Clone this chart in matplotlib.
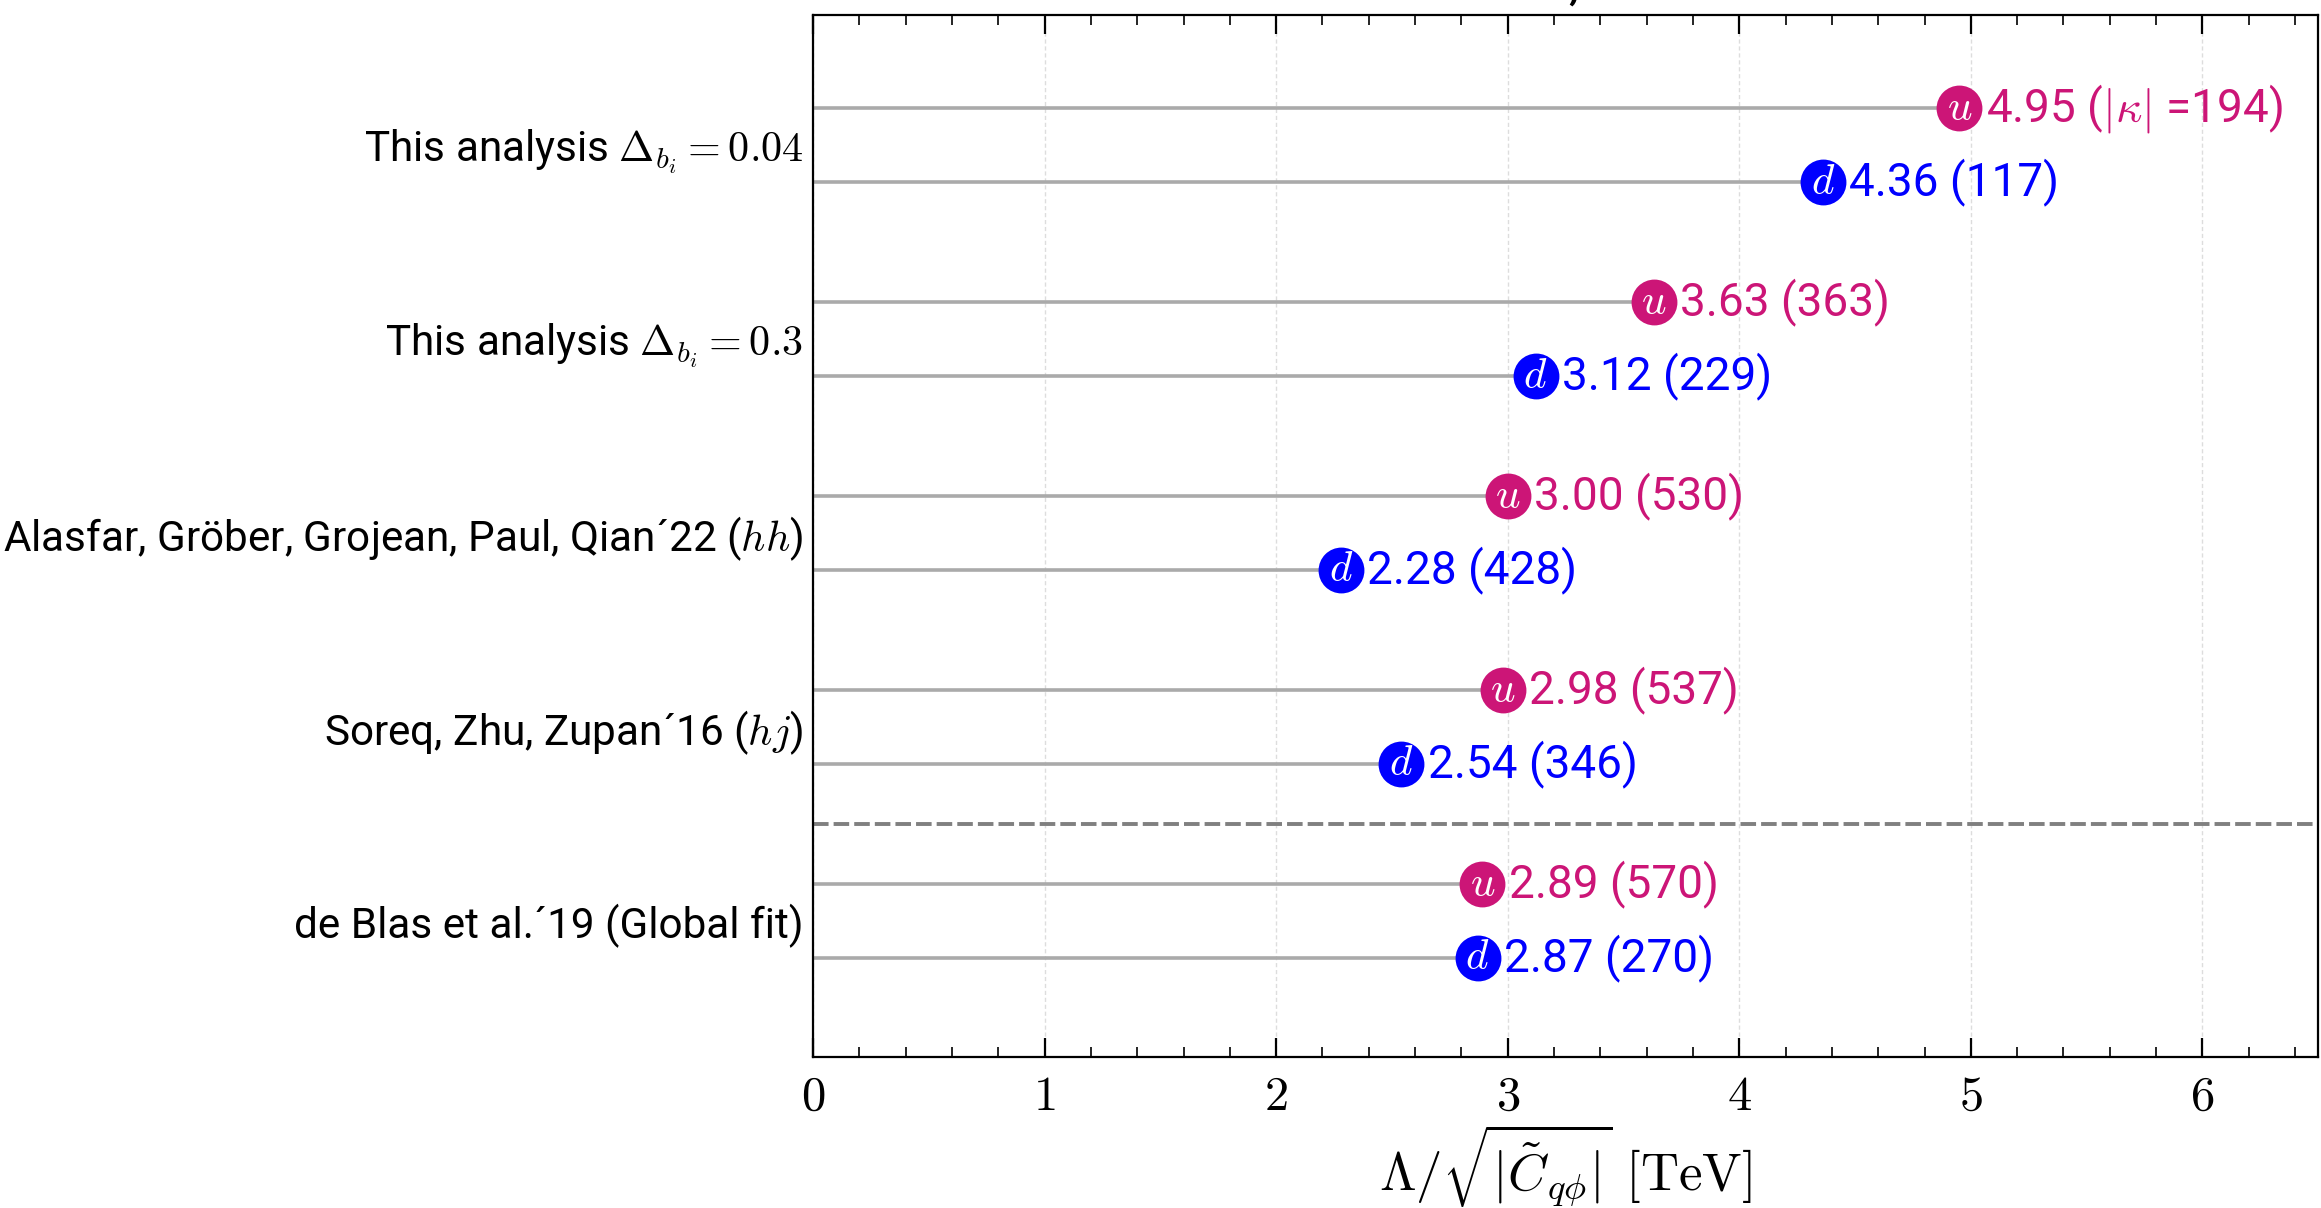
import matplotlib
matplotlib.use("Agg")
import matplotlib.pyplot as plt
from matplotlib.ticker import MultipleLocator

plt.rcParams['font.family'] = ['Roboto', 'DejaVu Sans']
plt.rcParams['mathtext.fontset'] = 'cm'

# data
studies = ["This analysis $\\Delta_{b_i} = 0.04$",
           "This analysis $\\Delta_{b_i} = 0.3$",
           "Alasfar, Gröber, Grojean, Paul, Qian\u00b422 ($hh$)",
           "Soreq, Zhu, Zupan\u00b416 ($hj$)",
           "de Blas et al.\u00b419 (Global fit)"]
u_vals = [4.95, 3.63, 3.00, 2.98, 2.89]
u_kappa = [194, 363, 530, 537, 570]
d_vals = [4.36, 3.12, 2.28, 2.54, 2.87]
d_kappa = [117, 229, 428, 346, 270]
xticks = [0, 1, 2, 3, 4, 5, 6]

u_col = "#cc1577"
d_col = "#0000ff"
line_col = "#aaaaaa"

fig = plt.figure(figsize=(11.605, 6.04), dpi=200)
ax = fig.add_axes([0.3503, 0.125, 0.6485, 0.8626])

n = len(studies)
centers = [n - 1 - i for i in range(n)]
off = 0.19

for i in range(n):
    yu = centers[i] + off
    yd = centers[i] - off
    for y, v, k, c, q in [(yu, u_vals[i], u_kappa[i], u_col, "u"),
                          (yd, d_vals[i], d_kappa[i], d_col, "d")]:
        ax.hlines(y, 0, v, color=line_col, lw=1.3, zorder=1)
        ax.plot(v, y, "o", ms=15.5, color=c, mec=c, zorder=3)
        ax.text(v, y, "$%s$" % q, color="white", fontsize=15.5,
                ha="center", va="center", zorder=4)
        if i == 0 and q == "u":
            lab = "%.2f ($|\\kappa|$ =%d)" % (v, k)
        else:
            lab = "%.2f (%d)" % (v, k)
        ax.annotate(lab, (v, y), xytext=(9.5, 0), textcoords="offset points",
                    color=c, fontsize=16.5, ha="left", va="center")

ax.axhline(0.5, color="gray", lw=1.4, ls=(0, (4, 1.3)), zorder=2)

ax.set_xlim(0, 6.5)
ax.set_ylim(-0.702, 4.672)
ax.set_xticks(xticks)
ax.set_xticklabels(["$%d$" % t for t in xticks], fontsize=17.5)
ax.xaxis.set_minor_locator(MultipleLocator(0.2))
ax.tick_params(axis="x", which="major", direction="in", length=7, width=0.8,
               top=True, pad=6)
ax.tick_params(axis="x", which="minor", direction="in", length=3.6, width=0.6,
               top=True)
ax.set_yticks(centers)
ax.set_yticklabels(studies, fontsize=15.2)
ax.tick_params(axis="y", length=0, pad=3.5)
ax.grid(axis="x", color="#dddddd", lw=0.5, ls=(0, (3, 2)))
ax.set_axisbelow(True)
ax.set_xlabel(r"$\Lambda/\sqrt{|\tilde{C}_{q\phi}|}\ [\mathrm{TeV}]$",
              fontsize=19, labelpad=1)

# title mostly outside the canvas, as in the original
fig.text(0.666, 1 + 0.6 / 1208, "HL-LHC: 3 ab$^{-1}$, $\\sqrt{s} = 14$ TeV",
         fontsize=19, ha="center", va="baseline")

fig.savefig("out.png", dpi=200)
plt.close()
